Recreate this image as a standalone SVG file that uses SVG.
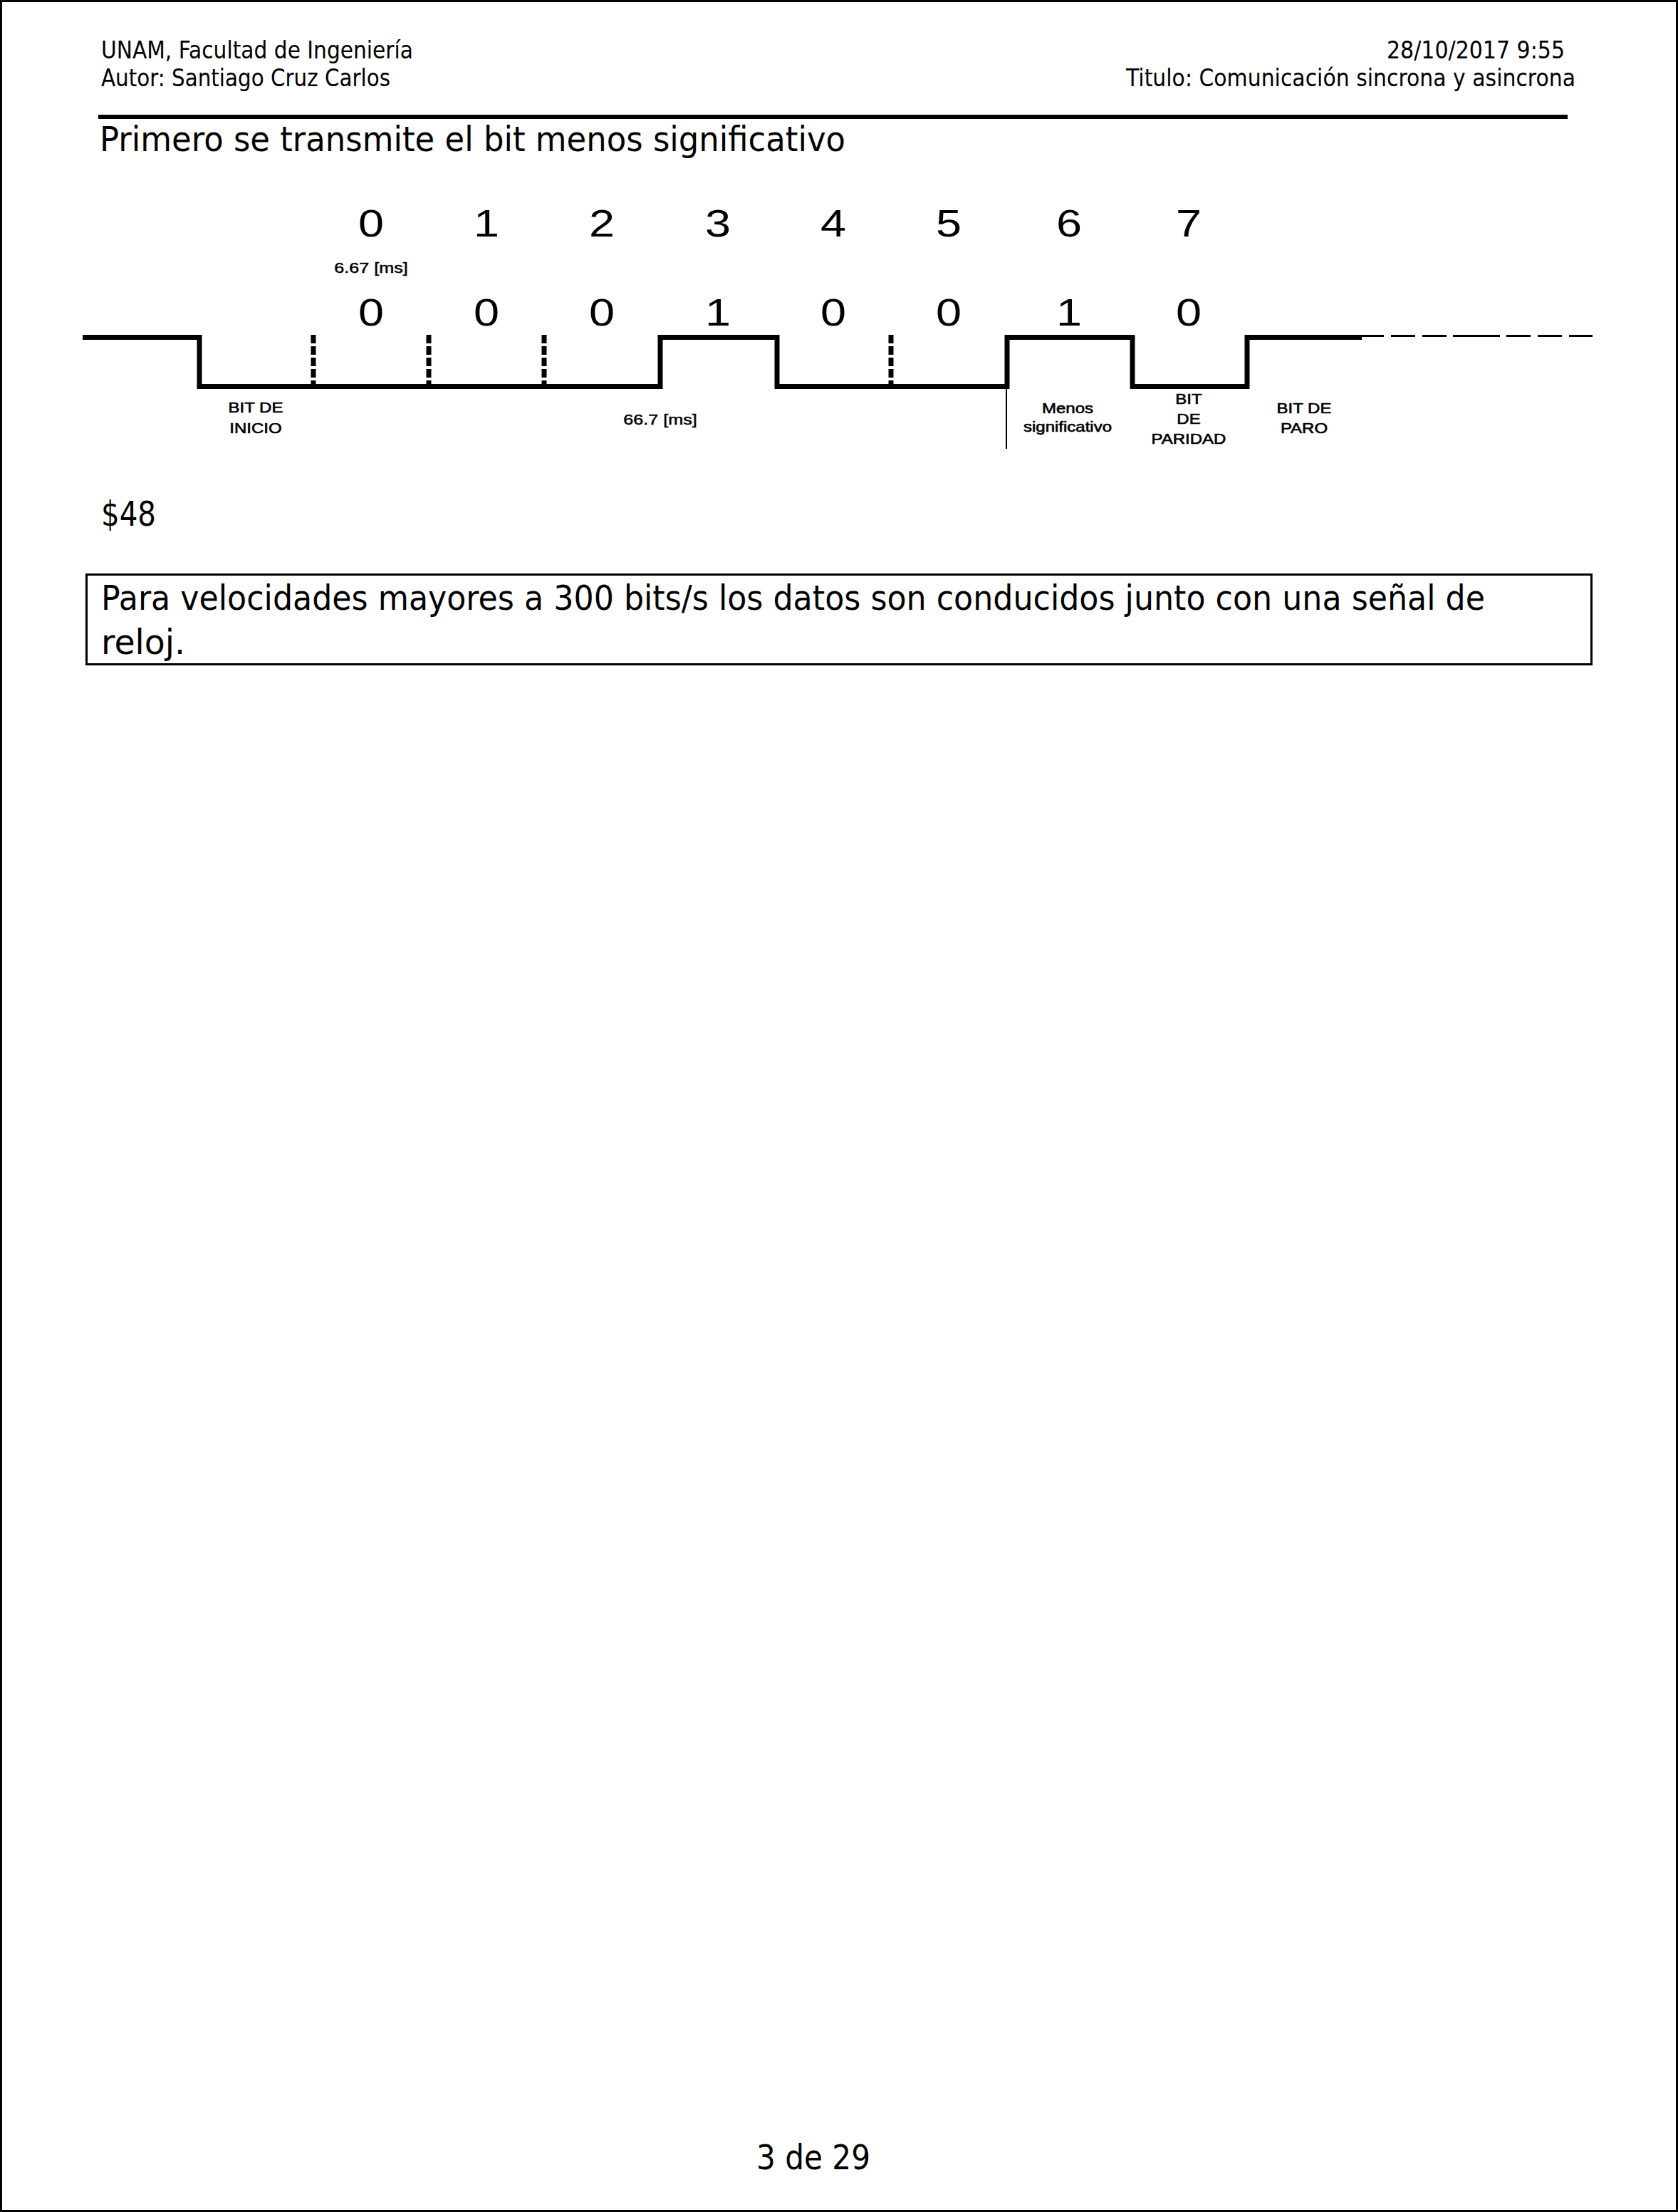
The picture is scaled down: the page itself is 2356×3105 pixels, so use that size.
<svg xmlns="http://www.w3.org/2000/svg" width="2356" height="3105" viewBox="0 0 2356 3105">
<style>
.hdr{font-family:"DejaVu Sans","Liberation Sans",sans-serif;font-size:33px;fill:#000}
.body{font-family:"DejaVu Sans","Liberation Sans",sans-serif;font-size:48px;fill:#000}
.dg{font-family:"Liberation Sans",Arial,sans-serif;text-anchor:middle;fill:#000}
.big{font-size:54px}
.sm{font-size:20px;stroke:#000;stroke-width:0.6}
.ms{font-size:21px;stroke:#000;stroke-width:0.5}
.wave{fill:none;stroke:#000;stroke-width:7;stroke-linejoin:miter;stroke-linecap:butt}
.tick{stroke:#000;stroke-width:7;stroke-dasharray:12 4}
.trail{stroke:#000;stroke-width:3}
</style>
<rect x="0" y="0" width="2356" height="3105" fill="#fff"/>
<rect id="page-border" x="1.5" y="1.5" width="2353" height="3102" fill="none" stroke="#000" stroke-width="3"/>

<g id="header">
<text class="hdr" x="142" y="82" textLength="438" lengthAdjust="spacingAndGlyphs">UNAM, Facultad de Ingeniería</text>
<text class="hdr" x="142" y="121" textLength="406" lengthAdjust="spacingAndGlyphs">Autor: Santiago Cruz Carlos</text>
<text class="hdr" x="1947" y="82" textLength="250" lengthAdjust="spacingAndGlyphs">28/10/2017 9:55</text>
<text class="hdr" x="1581" y="121" textLength="631" lengthAdjust="spacingAndGlyphs">Titulo: Comunicación sincrona y asincrona</text>
<line x1="138" y1="164" x2="2201" y2="164" stroke="#000" stroke-width="6"/>
</g>

<g id="heading">
<text class="body" x="140" y="212" textLength="1047" lengthAdjust="spacingAndGlyphs">Primero se transmite el bit menos significativo</text>
</g>

<g id="bit-index">
<text class="dg big" transform="translate(521 332) scale(1.2 1)">0</text>
<text class="dg big" transform="translate(683 332) scale(1.2 1)">1</text>
<text class="dg big" transform="translate(845 332) scale(1.2 1)">2</text>
<text class="dg big" transform="translate(1008 332) scale(1.2 1)">3</text>
<text class="dg big" transform="translate(1170 332) scale(1.2 1)">4</text>
<text class="dg big" transform="translate(1332 332) scale(1.2 1)">5</text>
<text class="dg big" transform="translate(1501 332) scale(1.2 1)">6</text>
<text class="dg big" transform="translate(1669 332) scale(1.2 1)">7</text>
</g>

<g id="bit-values">
<text class="dg big" transform="translate(521 457) scale(1.2 1)">0</text>
<text class="dg big" transform="translate(683 457) scale(1.2 1)">0</text>
<text class="dg big" transform="translate(845 457) scale(1.2 1)">0</text>
<text class="dg big" transform="translate(1008 457) scale(1.2 1)">1</text>
<text class="dg big" transform="translate(1170 457) scale(1.2 1)">0</text>
<text class="dg big" transform="translate(1332 457) scale(1.2 1)">0</text>
<text class="dg big" transform="translate(1501 457) scale(1.2 1)">1</text>
<text class="dg big" transform="translate(1669 457) scale(1.2 1)">0</text>
</g>

<g id="timing-labels">
<text class="dg ms" transform="translate(521 383) scale(1.2 1)">6.67 [ms]</text>
<text class="dg ms" transform="translate(927 596) scale(1.2 1)">66.7 [ms]</text>
</g>

<g id="waveform">
<path class="wave" d="M116,473.5 H280 V542.5 H927 V473.5 H1091 V542.5 H1414 V473.5 H1590 V542.5 H1751 V473.5 H1912"/>
<line class="tick" x1="440" y1="470" x2="440" y2="539"/>
<line class="tick" x1="602" y1="470" x2="602" y2="539"/>
<line class="tick" x1="764" y1="470" x2="764" y2="539"/>
<line class="tick" x1="1251" y1="470" x2="1251" y2="539"/>
<line x1="1413" y1="545" x2="1413" y2="630" stroke="#000" stroke-width="2"/>
<g id="idle-trail">
<line class="trail" x1="1912" y1="471.5" x2="1943" y2="471.5"/>
<line class="trail" x1="1953" y1="471.5" x2="1987" y2="471.5"/>
<line class="trail" x1="1997" y1="471.5" x2="2031" y2="471.5"/>
<line class="trail" x1="2040" y1="471.5" x2="2106" y2="471.5"/>
<line class="trail" x1="2115" y1="471.5" x2="2149" y2="471.5"/>
<line class="trail" x1="2159" y1="471.5" x2="2193" y2="471.5"/>
<line class="trail" x1="2203" y1="471.5" x2="2236" y2="471.5"/>
</g>
</g>

<g id="field-labels">
<text class="dg sm" transform="translate(359 579) scale(1.2 1)">BIT DE</text>
<text class="dg sm" transform="translate(359 608) scale(1.2 1)">INICIO</text>
<text class="dg sm" transform="translate(1499 580) scale(1.2 1)">Menos</text>
<text class="dg sm" transform="translate(1499 606) scale(1.2 1)">significativo</text>
<text class="dg sm" transform="translate(1669 567) scale(1.2 1)">BIT</text>
<text class="dg sm" transform="translate(1669 595) scale(1.2 1)">DE</text>
<text class="dg sm" transform="translate(1669 623) scale(1.2 1)">PARIDAD</text>
<text class="dg sm" transform="translate(1831 580) scale(1.2 1)">BIT DE</text>
<text class="dg sm" transform="translate(1831 608) scale(1.2 1)">PARO</text>
</g>

<g id="hex-value">
<text class="body" x="142" y="738" textLength="77" lengthAdjust="spacingAndGlyphs">$48</text>
</g>

<g id="note-box">
<rect x="121.5" y="806.5" width="2113" height="126" fill="none" stroke="#000" stroke-width="3"/>
<text class="body" x="142" y="856" textLength="1943" lengthAdjust="spacingAndGlyphs">Para velocidades mayores a 300 bits/s los datos son conducidos junto con una señal de</text>
<text class="body" x="142" y="918" textLength="118" lengthAdjust="spacingAndGlyphs">reloj.</text>
</g>

<g id="footer">
<text class="body" x="1062" y="3045" textLength="160" lengthAdjust="spacingAndGlyphs">3 de 29</text>
</g>
</svg>
